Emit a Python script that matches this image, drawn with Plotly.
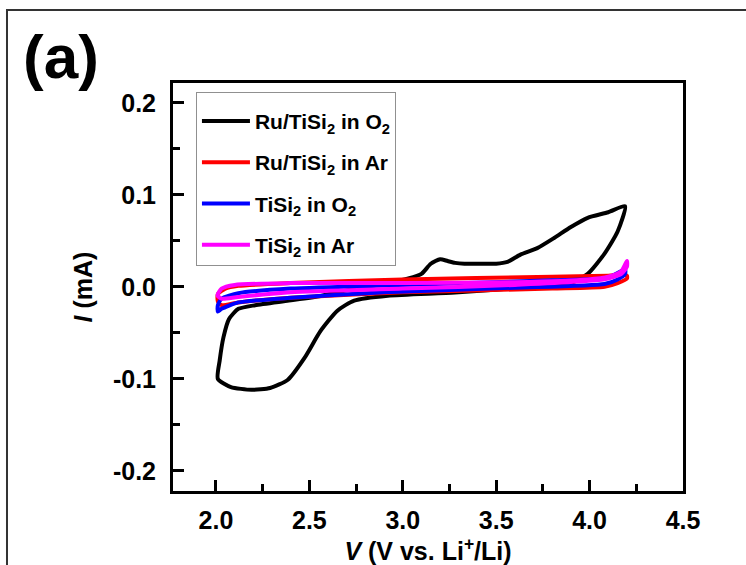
import plotly.graph_objects as go

# ---- data ----
v_ru_o2 = [4.19, 4.10, 3.99, 3.90, 3.81, 3.72, 3.63, 3.56, 3.50, 3.45, 3.33, 3.28, 3.24, 3.20,
           3.15, 3.10, 3.03, 2.92, 2.74, 2.56, 2.39, 2.21, 2.12, 2.07, 2.04, 2.02, 2.01,
           2.08, 2.19, 2.29, 2.385, 2.475, 2.56, 2.65, 2.74, 2.92, 3.28, 3.63, 3.90, 3.99,
           4.08, 4.15, 4.19]
i_ru_o2 = [0.0876, 0.081, 0.075, 0.065, 0.053, 0.042, 0.035, 0.027, 0.025, 0.025, 0.025, 0.026,
           0.028, 0.030, 0.025, 0.014, 0.009, 0.004, -0.002, -0.010, -0.015, -0.020, -0.024,
           -0.035, -0.055, -0.080, -0.100, -0.109, -0.112, -0.110, -0.101, -0.077, -0.048,
           -0.026, -0.015, -0.0097, -0.0063, -0.001, 0.004, 0.014, 0.036, 0.060, 0.0876]

v_ru_ar = [2.01, 2.05, 2.12, 2.40, 3.00, 3.80, 4.10, 4.18, 4.20, 4.20, 4.15, 4.08, 3.80, 3.00,
           2.40, 2.12, 2.03, 2.01, 2.01]
i_ru_ar = [-0.008, -0.002, 0.001, 0.004, 0.008, 0.011, 0.012, 0.013, 0.012, 0.009, 0.004, 0.000,
           -0.002, -0.006, -0.012, -0.017, -0.020, -0.016, -0.008]

v_ti_o2 = [2.01, 2.03, 2.12, 2.40, 3.00, 3.80, 4.10, 4.19, 4.19, 4.15, 4.08, 3.60, 2.90, 2.40,
           2.12, 2.03, 2.01, 2.01]
i_ti_o2 = [-0.020, -0.013, -0.007, -0.002, 0.002, 0.007, 0.010, 0.019, 0.014, 0.008, 0.003,
           -0.001, -0.006, -0.012, -0.017, -0.024, -0.027, -0.020]

v_ti_ar = [2.01, 2.03, 2.10, 2.40, 3.00, 3.60, 3.99, 4.10, 4.17, 4.20, 4.20, 4.17, 4.08, 3.60,
           3.00, 2.40, 2.12, 2.03, 2.01, 2.01]
i_ti_ar = [-0.008, -0.002, 0.002, 0.004, 0.004, 0.005, 0.008, 0.011, 0.017, 0.028, 0.022, 0.014,
           0.008, 0.002, -0.002, -0.006, -0.011, -0.013, -0.010, -0.008]

series_names = ["Ru/TiSi<sub>2</sub> in O<sub>2</sub>", "Ru/TiSi<sub>2</sub> in Ar",
                "TiSi<sub>2</sub> in O<sub>2</sub>", "TiSi<sub>2</sub> in Ar"]
series_colors = ["#000000", "#ff0000", "#0000ff", "#ff00ff"]

x_tickvals = [2.0, 2.5, 3.0, 3.5, 4.0, 4.5]
x_ticktext = ["2.0", "2.5", "3.0", "3.5", "4.0", "4.5"]
y_tickvals = [0.2, 0.1, 0.0, -0.1, -0.2]
y_ticktext = ["0.2", "0.1", "0.0", "-0.1", "-0.2"]

FONT = "Liberation Sans, Arial, sans-serif"

fig = go.Figure()
for vx, iy, name, col in zip([v_ru_o2, v_ru_ar, v_ti_o2, v_ti_ar],
                             [i_ru_o2, i_ru_ar, i_ti_o2, i_ti_ar],
                             series_names, series_colors):
    fig.add_trace(go.Scatter(x=vx, y=iy, mode="lines", name=name, legendgroup=name,
                             line=dict(color=col, width=4, shape="spline", smoothing=0.6)))

axis_common = dict(showline=True, linecolor="black", linewidth=3, mirror=True,
                   ticks="inside", ticklen=11, tickwidth=3, tickcolor="black",
                   showgrid=False, zeroline=False, automargin=False,
                   tickfont=dict(family=FONT, size=25, color="black", weight="bold"))

fig.update_xaxes(range=[1.77, 4.5], tickvals=x_tickvals, ticktext=x_ticktext,
                 minor=dict(ticks="inside", ticklen=7, tickwidth=3, tickcolor="black",
                            tickvals=[2.25, 2.75, 3.25, 3.75, 4.25]),
                 title=dict(text="<i>V</i> (V vs. Li<sup>+</sup>/Li)", standoff=4,
                            font=dict(family=FONT, size=25, color="black", weight="bold")),
                 ticklabelstandoff=5, **axis_common)
fig.update_yaxes(range=[-0.222, 0.2215], tickvals=y_tickvals, ticktext=y_ticktext,
                 minor=dict(ticks="inside", ticklen=7, tickwidth=3, tickcolor="black",
                            tickvals=[0.15, 0.05, -0.05, -0.15]),
                 title=dict(text="<i>I</i> (mA)", standoff=14,
                            font=dict(family=FONT, size=25, color="black", weight="bold")),
                 ticklabelstandoff=9, **axis_common)

fig.update_layout(
    width=746, height=565,
    margin=dict(l=173, r=63, t=83, b=74),
    paper_bgcolor="white", plot_bgcolor="white",
    font=dict(family=FONT, color="black"),
    showlegend=True,
    legend=dict(x=0.045, y=0.978, xanchor="left", yanchor="top",
                bordercolor="#909090", borderwidth=1, bgcolor="rgba(255,255,255,0)",
                font=dict(family=FONT, size=21, color="black", weight="bold"),
                title=dict(text=" ", font=dict(size=6)),
                tracegroupgap=11, itemwidth=48,
                entrywidth=200, entrywidthmode="pixels"),
    annotations=[dict(text="(a)", xref="paper", yref="paper", x=-0.219, y=1.066,
                      xanchor="center", yanchor="middle", showarrow=False,
                      font=dict(family=FONT, size=62, color="black", weight="bold"))],
    shapes=[dict(type="rect", xref="paper", yref="paper", x0=-0.3255, y0=-0.2,
                 x1=1.14, y1=1.179, line=dict(color="#333333", width=2), layer="below")],
)

fig.write_html("out.html", config={"displayModeBar": False},
               post_script="document.body.style.margin='0';document.body.style.overflow='hidden';")
